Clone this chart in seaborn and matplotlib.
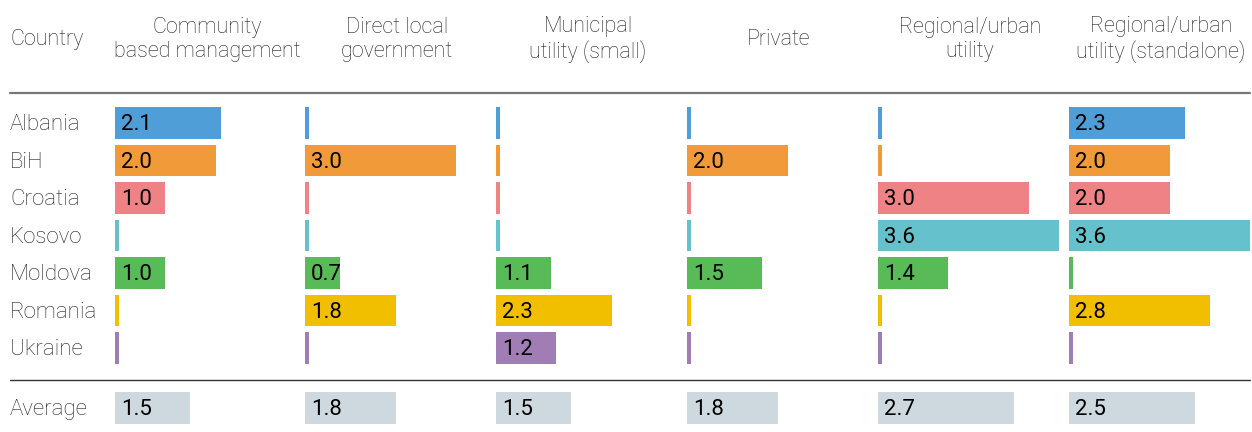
import numpy as np
import pandas as pd
import seaborn as sns
import matplotlib.pyplot as plt
from matplotlib.transforms import blended_transform_factory

sns.set_theme(style="white")
plt.rcParams["font.family"] = ["Roboto", "DejaVu Sans"]

# Data
countries = ["Albania", "BiH", "Croatia", "Kosovo", "Moldova", "Romania", "Ukraine"]
models = ["Community\nbased management", "Direct local\ngovernment", "Municipal\nutility (small)",
          "Private", "Regional/urban\nutility", "Regional/urban\nutility (standalone)"]
community = [2.1, 2.0, 1.0, 0, 1.0, 0, 0]
direct_local = [0, 3.0, 0, 0, 0.7, 1.8, 0]
municipal_small = [0, 0, 0, 0, 1.1, 2.3, 1.2]
private = [0, 2.0, 0, 0, 1.5, 0, 0]
regional = [0, 0, 3.0, 3.6, 1.4, 0, 0]
regional_standalone = [2.3, 2.0, 2.0, 3.6, 0, 2.8, 0]
averages = [1.5, 1.8, 1.5, 1.8, 2.7, 2.5]

series = [community, direct_local, municipal_small, private, regional, regional_standalone]
colors = ["#4f9ed8", "#f09a39", "#ef8284", "#65c1cc", "#58bb58", "#f2be00", "#a07db4"]
avg_color = "#cdd8df"

W, H = 1252, 432
fig = plt.figure(figsize=(W / 100, H / 100), dpi=100)

px_per_unit = 50.3
col_left = [115, 305, 496, 687, 878, 1069]
col_w = 190
stub = 0.07
dy = 0.05  # nudge text down a touch to sit centred in the bar

def fy(py):
    return 1 - py / H

label_kw = dict(fontsize=16, fontweight="light", color="#222222")
header_kw = dict(fontsize=15.5, fontweight="light", color="#222222")
value_kw = dict(fontsize=16, color="black", va="center", ha="left")

for i, (x0, vals, title) in enumerate(zip(col_left, series, models)):
    vals = np.array(vals, dtype=float)
    df = pd.DataFrame({"country": countries, "value": vals,
                       "drawn": np.where(vals > 0, vals, stub)})
    ax = fig.add_axes([x0 / W, fy(366.75), col_w / W, (366.75 - 104.25) / H])
    sns.barplot(data=df, x="drawn", y="country", hue="country", palette=colors,
                orient="h", width=0.83, linewidth=0, saturation=1, legend=False, ax=ax)
    ax.set_xlim(0, col_w / px_per_unit)
    ax.set_ylim(6.5, -0.5)
    ax.axis("off")
    for j, v in enumerate(vals):
        if v > 0:
            ax.text(0.12, j + dy, f"{v:.1f}", **value_kw)

    # Average row
    avg_df = pd.DataFrame({"label": ["Average"], "value": [averages[i]]})
    ax2 = fig.add_axes([x0 / W, fy(426.75), col_w / W, 37.5 / H])
    sns.barplot(data=avg_df, x="value", y="label", color=avg_color, orient="h",
                width=0.83, linewidth=0, saturation=1, ax=ax2)
    ax2.set_xlim(0, col_w / px_per_unit)
    ax2.set_ylim(0.5, -0.5)
    ax2.axis("off")
    ax2.text(0.12, dy, f"{averages[i]:.1f}", **value_kw)

    # Column header
    fig.text((x0 + 92) / W, fy(39.5), title, ha="center", va="center",
             linespacing=1.2, **header_kw)

    if i == 0:
        tr = blended_transform_factory(fig.transFigure, ax.transData)
        for j, c in enumerate(countries):
            ax.text(10 / W, j + dy, c, transform=tr, ha="left", va="center", **label_kw)
        tr2 = blended_transform_factory(fig.transFigure, ax2.transData)
        ax2.text(10 / W, dy, "Average", transform=tr2, ha="left", va="center", **label_kw)

fig.text(10 / W, fy(40), "Country", ha="left", va="center", **header_kw)

# Rules
fig.add_artist(plt.Line2D([10 / W, 1250 / W], [fy(93), fy(93)], color="#777777", lw=1.6,
                          transform=fig.transFigure))
fig.add_artist(plt.Line2D([10 / W, 1250 / W], [fy(380), fy(380)], color="#333333", lw=1.0,
                          transform=fig.transFigure))

fig.savefig("out.png", dpi=100)
